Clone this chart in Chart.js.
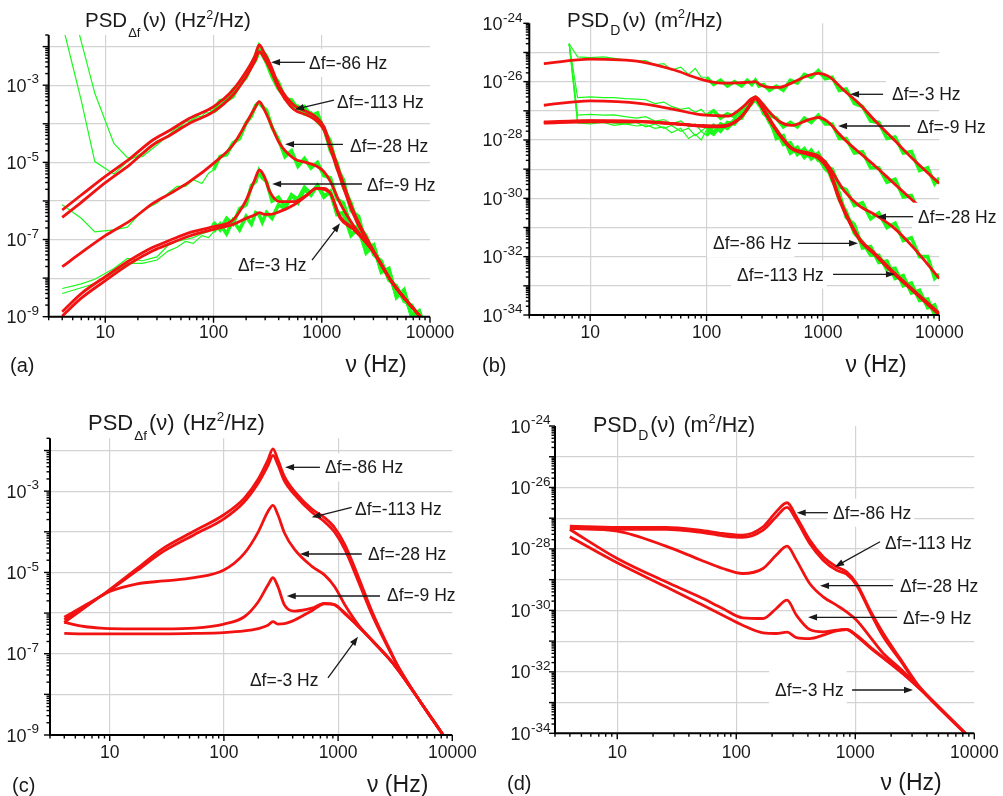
<!DOCTYPE html>
<html><head><meta charset="utf-8">
<script src="https://cdn.jsdelivr.net/npm/chart.js@4.4.1/dist/chart.umd.min.js"></script>
<style>
html,body{margin:0;padding:0;background:#fff;}
#wrap{position:relative;width:1003px;height:796px;overflow:hidden;background:#fff;}
canvas{position:absolute;left:0;top:0;}
</style></head><body>
<div id="wrap">
<canvas id="ca" width="1003" height="796"></canvas>
<canvas id="cb" width="1003" height="796"></canvas>
<canvas id="cc" width="1003" height="796"></canvas>
<canvas id="cd" width="1003" height="796"></canvas>
</div>
<script>
// ===== DATA (values are log10 of PSD) =====
// Panel (a): PSD_Δf, red model curves
const freqA = [4, 6, 10, 17, 27.5, 40, 60, 100, 151, 200, 240, 265, 295, 331, 407, 550, 725, 891, 1047, 1202, 1479, 1950, 3020, 4571, 8128];
const aRed86  = [-6.235, -5.846, -5.362, -4.895, -4.42, -4.16, -3.858, -3.556, -3.124, -2.648, -2.259, -1.957, -2.173, -2.432, -3.037, -3.513, -3.685, -3.832, -4.074, -4.55, -5.3, -6.25, -7.30, -8.15, -9.0];
const aRed113 = [-6.425, -6.036, -5.526, -5.05, -4.55, -4.29, -3.988, -3.685, -3.253, -2.778, -2.389, -2.13, -2.302, -2.562, -3.124, -3.625, -3.772, -3.919, -4.16, -4.65, -5.4, -6.33, -7.33, -8.15, -9.0];
const aRed28  = [-7.704, -7.341, -6.9, -6.512, -6.062, -5.803, -5.50, -5.025, -4.55, -3.988, -3.60, -3.426, -3.642, -3.945, -4.506, -4.895, -5.008, -5.094, -5.241, -5.50, -6.062, -6.624, -7.33, -8.15, -9.0];
const aRed9   = [-8.871, -8.40, -7.964, -7.532, -7.203, -7.013, -6.823, -6.667, -6.494, -5.976, -5.457, -5.198, -5.371, -5.76, -6.019, -6.019, -5.846, -5.673, -5.70, -5.803, -6.41, -6.71, -7.33, -8.15, -9.0];
const aRed3   = [-8.984, -8.52, -8.067, -7.618, -7.29, -7.10, -6.909, -6.736, -6.607, -6.451, -6.365, -6.304, -6.347, -6.347, -6.278, -6.105, -5.863, -5.673, -5.673, -5.803, -6.45, -6.73, -7.33, -8.15, -9.0];
// Panel (a): measured (green) spectra
const freqAG = [4, 6, 8, 12, 16, 22, 30, 38, 46, 55, 65, 78, 90, 100, 115, 132, 151, 174, 200, 224, 245, 263, 282, 309, 347, 398, 457, 525, 603, 692, 794, 912, 1047, 1202, 1380, 1585, 1862, 2188, 2570, 3020, 3548, 4169, 4898, 5754, 6761, 7943, 9120];
const aGreen86  = [-1.4, -3.4, -4.98, -5.30, -4.98, -4.75, -4.45, -4.35, -4.15, -3.95, -3.90, -3.70, -3.72, -3.65, -3.40, -3.38, -3.12, -2.98, -2.68, -2.45, -2.22, -1.98, -2.12, -2.25, -2.70, -2.92, -3.35, -3.38, -3.62, -3.55, -3.80, -3.72, -4.15, -4.45, -5.15, -5.45, -6.25, -6.4, -7.15, -7.15, -7.8, -7.8, -8.45, -8.35, -8.95, -8.85, -9.3];
const aGreen113 = [0, -1.87, -3.21, -4.51, -4.88, -4.85, -4.55, -4.3, -4.1, -4.05, -3.85, -3.80, -3.62, -3.70, -3.55, -3.40, -3.30, -3.00, -2.80, -2.50, -2.35, -2.12, -2.20, -2.42, -2.78, -3.10, -3.30, -3.55, -3.55, -3.75, -3.72, -3.95, -4.10, -4.70, -5.00, -5.65, -6.05, -6.65, -6.90, -7.4, -7.55, -8.05, -8.2, -8.6, -8.7, -9.05, -9.1];
const aGreen28  = [-6.10, -6.45, -6.80, -6.75, -6.68, -6.25, -6.05, -5.80, -5.62, -5.62, -5.45, -5.55, -5.28, -5.20, -4.85, -4.80, -4.50, -4.38, -3.98, -3.80, -3.52, -3.45, -3.55, -3.65, -4.10, -4.40, -4.85, -4.70, -5.10, -4.90, -5.15, -5.00, -5.35, -5.40, -5.95, -6.05, -6.65, -6.70, -7.20, -7.25, -7.75, -7.85, -8.45, -8.40, -8.95, -8.90, -9.35];
const aGreen9   = [-8.27, -8.15, -8.03, -7.75, -7.49, -7.55, -7.45, -7.15, -7.05, -7.0, -6.95, -6.85, -6.8, -6.55, -6.75, -6.45, -6.60, -6.20, -6.10, -5.60, -5.50, -5.22, -5.40, -5.50, -6.00, -5.90, -6.15, -5.85, -6.05, -5.70, -5.85, -5.60, -5.85, -5.80, -6.30, -6.35, -6.85, -6.75, -7.30, -7.20, -7.80, -7.80, -8.45, -8.35, -8.95, -8.90, -9.35];
const aGreen3   = [-8.40, -8.25, -8.14, -7.85, -7.62, -7.62, -7.53, -7.30, -7.20, -7.05, -7.10, -6.90, -6.95, -6.80, -6.60, -6.85, -6.50, -6.75, -6.40, -6.60, -6.30, -6.35, -6.55, -6.30, -6.45, -6.10, -6.20, -5.85, -5.95, -5.65, -5.80, -5.60, -5.90, -5.75, -6.35, -6.30, -6.90, -6.70, -7.35, -7.15, -7.85, -7.75, -8.50, -8.30, -9.0, -8.85, -9.4];

// Panel (b): PSD_D, red model curves
const freqB = [4, 10, 27.5, 53.7, 85, 126, 155, 186, 214, 240, 263, 288, 316, 417, 537, 759, 912, 1122, 1349, 1549, 2042, 2818, 3981, 6026, 10000];
const bRed3   = [-25.38, -25.23, -25.32, -25.61, -25.89, -26.04, -26.05, -26.04, -26.03, -26.02, -26.0, -26.1, -26.17, -26.2, -26.05, -25.78, -25.72, -25.82, -26.1, -26.33, -26.75, -27.35, -27.95, -28.68, -29.49];
const bRed9   = [-26.81, -26.66, -26.75, -26.96, -27.12, -27.17, -27.18, -27.0, -26.8, -26.6, -26.52, -26.65, -26.85, -27.35, -27.5, -27.3, -27.23, -27.4, -27.75, -28.0, -28.42, -28.9, -29.45, -30.1, -30.85];
const bRed28  = [-27.40, -27.35, -27.37, -27.45, -27.50, -27.52, -27.48, -27.30, -27.05, -26.75, -26.55, -26.75, -27.05, -27.78, -28.27, -28.46, -28.55, -28.9, -29.42, -29.78, -30.25, -30.57, -30.98, -31.7, -32.75];
const bRed86  = [-27.42, -27.38, -27.38, -27.45, -27.52, -27.55, -27.50, -27.32, -27.05, -26.75, -26.52, -26.72, -27.0, -27.75, -28.27, -28.45, -28.55, -28.95, -29.85, -30.45, -31.35, -31.9, -32.5, -33.15, -33.94];
const bRed113 = [-27.38, -27.34, -27.36, -27.44, -27.50, -27.53, -27.49, -27.31, -27.06, -26.78, -26.58, -26.78, -27.05, -27.8, -28.3, -28.5, -28.62, -29.05, -29.95, -30.52, -31.4, -31.95, -32.55, -33.2, -34.0];
// Panel (b): measured (green) spectra
const freqBG = [6.6, 7.8, 10, 13, 16, 20, 25, 30, 36, 43, 50, 60, 70, 80, 90, 100, 115, 132, 151, 174, 200, 224, 245, 263, 282, 309, 347, 398, 457, 525, 603, 692, 794, 912, 1047, 1202, 1380, 1585, 1862, 2188, 2570, 3020, 3548, 4169, 4898, 5754, 6761, 7943, 9120, 10000];
const bGreen3   = [-24.7, -25.15, -25.18, -25.15, -25.2, -25.25, -25.3, -25.28, -25.42, -25.38, -25.6, -25.5, -25.75, -25.55, -25.85, -25.85, -26.10, -25.95, -26.15, -26.0, -26.15, -25.95, -26.10, -25.95, -26.15, -26.10, -26.30, -26.15, -26.30, -25.95, -26.05, -25.75, -25.85, -25.62, -25.90, -25.85, -26.30, -26.25, -26.75, -26.85, -27.35, -27.40, -27.95, -27.90, -28.45, -28.40, -29.05, -28.95, -29.5, -29.3];
const bGreen9   = [-24.7, -26.55, -26.52, -26.55, -26.55, -26.58, -26.6, -26.62, -26.75, -26.7, -26.85, -26.95, -26.9, -27.05, -26.95, -27.15, -27.0, -27.25, -27.10, -27.20, -26.95, -26.80, -26.60, -26.55, -26.70, -26.80, -27.15, -27.25, -27.55, -27.40, -27.55, -27.25, -27.40, -27.15, -27.45, -27.45, -27.95, -27.95, -28.45, -28.40, -28.95, -28.95, -29.45, -29.35, -29.95, -29.90, -30.5, -30.4, -30.95, -30.8];
const bGreen28  = [-24.7, -27.15, -27.12, -27.15, -27.14, -27.2, -27.25, -27.2, -27.35, -27.3, -27.45, -27.35, -27.55, -27.45, -27.7, -27.55, -27.75, -27.45, -27.55, -27.30, -27.25, -26.90, -26.75, -26.60, -26.80, -26.95, -27.40, -27.65, -28.15, -28.10, -28.50, -28.30, -28.65, -28.45, -28.90, -29.0, -29.60, -29.70, -30.25, -30.15, -30.70, -30.50, -31.0, -30.85, -31.45, -31.35, -32.0, -32.0, -32.75, -32.6];
const bGreen86  = [-24.7, -27.35, -27.38, -27.35, -27.42, -27.45, -27.4, -27.55, -27.45, -27.6, -27.5, -27.7, -27.6, -27.85, -27.7, -27.85, -27.50, -27.70, -27.40, -27.45, -27.10, -26.95, -26.65, -26.55, -26.75, -27.0, -27.35, -27.85, -27.95, -28.40, -28.25, -28.60, -28.35, -28.70, -28.75, -29.40, -29.80, -30.65, -30.90, -31.70, -31.65, -32.2, -32.15, -32.75, -32.65, -33.25, -33.15, -33.75, -33.65, -34.1];
const bGreen113 = [-24.7, -27.42, -27.45, -27.4, -27.5, -27.45, -27.52, -27.48, -27.6, -27.55, -27.75, -27.6, -27.95, -27.8, -28.0, -27.65, -27.80, -27.50, -27.60, -27.35, -27.20, -26.85, -26.70, -26.62, -26.70, -27.10, -27.25, -27.95, -27.85, -28.45, -28.30, -28.55, -28.50, -28.60, -29.0, -29.20, -30.05, -30.45, -31.20, -31.50, -31.95, -31.95, -32.45, -32.40, -33.0, -32.9, -33.5, -33.45, -34.0, -33.9];

// Panel (c): PSD_Δf, model curves
const freqC = [4, 6, 8.3, 10, 17.4, 30, 55, 100, 151, 200, 243, 269, 297, 339, 417, 589, 759, 933, 1148, 1514, 1995, 2951, 3388, 5248, 8318];
const cRed86  = [-6.10, -5.82, -5.59, -5.42, -4.90, -4.39, -3.98, -3.58, -3.17, -2.70, -2.23, -1.96, -2.23, -2.64, -3.01, -3.44, -3.65, -3.90, -4.32, -5.13, -5.98, -7.0, -7.33, -8.18, -9.0];
const cRed113 = [-6.16, -5.86, -5.59, -5.44, -4.95, -4.47, -4.07, -3.68, -3.26, -2.80, -2.37, -2.12, -2.35, -2.75, -3.09, -3.52, -3.75, -4.01, -4.44, -5.24, -6.06, -7.03, -7.35, -8.18, -9.0];
const cRed28  = [-6.23, -5.87, -5.59, -5.47, -5.28, -5.21, -5.13, -4.94, -4.53, -4.0, -3.50, -3.35, -3.58, -4.03, -4.44, -4.85, -5.06, -5.35, -5.80, -6.30, -6.68, -7.2, -7.42, -8.18, -9.0];
const cRed9   = [-6.23, -6.33, -6.37, -6.38, -6.39, -6.39, -6.37, -6.27, -6.09, -5.72, -5.31, -5.13, -5.35, -5.80, -5.95, -5.88, -5.76, -5.80, -6.0, -6.34, -6.68, -7.2, -7.42, -8.18, -9.0];
const cRed3   = [-6.50, -6.51, -6.51, -6.51, -6.51, -6.51, -6.50, -6.48, -6.44, -6.38, -6.30, -6.21, -6.27, -6.26, -6.17, -5.94, -5.77, -5.79, -6.02, -6.33, -6.68, -7.2, -7.42, -8.18, -9.0];

// Panel (d): PSD_D, model curves
const freqD = [4, 10, 25.6, 49, 77, 113, 168, 217, 267, 320, 414, 537, 695, 845, 1026, 1330, 1722, 2382, 3296, 4550, 8430];
const dRed86  = [-27.257, -27.30, -27.30, -27.388, -27.496, -27.55, -27.279, -26.79, -26.497, -26.953, -27.713, -28.256, -28.582, -28.745, -29.125, -29.993, -30.753, -31.57, -32.38, -32.98, -34.01];
const dRed113 = [-27.333, -27.366, -27.366, -27.453, -27.572, -27.627, -27.388, -26.953, -26.649, -27.062, -27.822, -28.365, -28.691, -28.821, -29.179, -30.048, -30.862, -31.62, -32.41, -33.0, -34.01];
const dRed28  = [-27.333, -27.42, -27.909, -28.343, -28.636, -28.80, -28.636, -28.20, -27.909, -28.365, -29.125, -29.559, -29.831, -30.048, -30.319, -30.862, -31.405, -31.893, -32.436, -32.979, -34.01];
const dRed9   = [-27.366, -28.31, -29.07, -29.559, -29.939, -30.243, -30.265, -29.939, -29.668, -30.156, -30.623, -30.699, -30.645, -30.623, -30.808, -31.188, -31.535, -31.97, -32.458, -32.979, -34.01];
const dRed3   = [-27.605, -28.452, -29.233, -29.776, -30.156, -30.482, -30.732, -30.753, -30.71, -30.884, -30.916, -30.808, -30.667, -30.623, -30.84, -31.21, -31.557, -31.99, -32.469, -32.979, -34.01];

// Tick labels
const xTickLabels = [10, 100, 1000, 10000];
const yLabelsAC = [-3, -5, -7, -9];
const yLabelsBD = [-24, -26, -28, -30, -32, -34];

// Annotations: [text, text anchor (Hz, log10 PSD), arrow start, arrow tip, optional box half-height]
const notesA = [
  ['\u0394f=-86 Hz',  [762, -2.425],  [700, -2.407],  [340, -2.407]],
  ['\u0394f=-113 Hz', [1384, -3.449], [1297, -3.384], [566, -3.625]],
  ['\u0394f=-28 Hz',  [1824, -4.576], [1570, -4.532], [458, -4.532]],
  ['\u0394f=-9 Hz',   [2618, -5.587], [2355, -5.561], [348, -5.561]],
  ['\u0394f=-3 Hz',   [168, -7.661],  [813, -7.531],  [1476, -6.580]]
];
const notesB = [
  ['\u0394f=-3 Hz',   [3926, -26.424], [3289, -26.434], [1710, -26.434]],
  ['\u0394f=-9 Hz',   [6442, -27.555], [5610, -27.521], [1349, -27.521], 12],
  ['\u0394f=-28 Hz',  [6577, -30.63],  [5957, -30.63],  [2917, -30.63]],
  ['\u0394f=-86 Hz',  [113.8, -31.542],[611, -31.542],  [2004, -31.542]],
  ['\u0394f=-113 Hz', [182.8, -32.618],[1222, -32.605], [4159, -32.605]]
];
const notesC = [
  ['\u0394f=-86 Hz',  [767, -2.418],  [693, -2.413],  [343, -2.413]],
  ['\u0394f=-113 Hz', [1406, -3.439], [1315, -3.397], [587, -3.643]],
  ['\u0394f=-28 Hz',  [1828, -4.546], [1611, -4.546], [463, -4.546]],
  ['\u0394f=-9 Hz',   [2679, -5.555], [2328, -5.579], [355, -5.579]],
  ['\u0394f=-3 Hz',   [169, -7.646],  [815, -7.597],  [1493, -6.581]]
];
const notesD = [
  ['\u0394f=-86 Hz',  [650, -26.821],  [590, -26.821],  [322, -26.821]],
  ['\u0394f=-113 Hz', [1778, -27.798], [1614, -27.765], [676, -28.579]],
  ['\u0394f=-28 Hz',  [2377, -29.207], [2075, -29.197], [506, -29.197]],
  ['\u0394f=-9 Hz',   [2518, -30.248], [2244, -30.225], [401, -30.225]],
  ['\u0394f=-3 Hz',   [212, -32.591],  [940, -32.591],  [3055, -32.591], 19]
];

// ===== RENDERING =====
const RED = '#f21212', GREEN = '#1cfa1c', INK = '#1a1a1a';
const FONT = "'Liberation Sans', Arial, Helvetica, sans-serif";

function pts(freq, logs) { return freq.map((f, i) => ({ x: f, y: Math.pow(10, logs[i]) })); }
function redDs(freq, logs) {
  return { data: pts(freq, logs), borderColor: RED, borderWidth: 2.8, pointRadius: 0,
           cubicInterpolationMode: 'monotone', order: 0, fill: false };
}
function greenDs(freq, logs) {
  return { data: pts(freq, logs), borderColor: GREEN, borderWidth: 1.2, pointRadius: 0,
           tension: 0, order: 1, fill: false, borderJoinStyle: 'miter',
           segment: { borderWidth: c => (c.p0.parsed.x >= 95 ? 3.6 : 1.2) } };
}

function arrow(ctx, x1, y1, x2, y2) {
  const a = Math.atan2(y2 - y1, x2 - x1), L = 9, W = 3.3;
  ctx.beginPath(); ctx.moveTo(x1, y1);
  ctx.lineTo(x2 - L * 0.7 * Math.cos(a), y2 - L * 0.7 * Math.sin(a)); ctx.stroke();
  ctx.beginPath(); ctx.moveTo(x2, y2);
  ctx.lineTo(x2 - L * Math.cos(a) + W * Math.sin(a), y2 - L * Math.sin(a) - W * Math.cos(a));
  ctx.lineTo(x2 - L * Math.cos(a) - W * Math.sin(a), y2 - L * Math.sin(a) + W * Math.cos(a));
  ctx.closePath(); ctx.fill();
}

function makePanel(p) {
  const lo = Math.log10(p.yMin), hi = Math.log10(p.yMax);
  const gridY = [];
  for (let e = Math.ceil(lo); e <= Math.floor(hi); e++) { if (e > lo + 1e-6 && e < hi - 1e-6) gridY.push(Math.pow(10, e)); }
  const deco = {
    id: 'deco' + p.id,
    afterDatasetsDraw(chart) {
      const ctx = chart.ctx, xs = chart.scales.x, ys = chart.scales.y;
      ctx.save();
      ctx.font = `17.5px ${FONT}`;
      ctx.textBaseline = 'middle'; ctx.textAlign = 'left';
      p.notes.forEach(n => {
        const [txt, at, fr, to, padY] = n;
        const tx = xs.getPixelForValue(at[0]), ty = ys.getPixelForValue(Math.pow(10, at[1]));
        const w = ctx.measureText(txt).width;
        const py = padY || 14;
        ctx.fillStyle = '#fff';
        ctx.fillRect(tx - 6, ty - py, w + 9, py * 2);
        ctx.fillStyle = INK;
        ctx.fillText(txt, tx, ty + 1);
        ctx.strokeStyle = INK; ctx.lineWidth = 1.3;
        arrow(ctx, xs.getPixelForValue(fr[0]), ys.getPixelForValue(Math.pow(10, fr[1])),
                   xs.getPixelForValue(to[0]), ys.getPixelForValue(Math.pow(10, to[1])));
      });
      ctx.restore();
    },
    afterDraw(chart) {
      const ctx = chart.ctx, xs = chart.scales.x, ys = chart.scales.y;
      const { left, right, top, bottom } = chart.chartArea;
      ctx.save();
      ctx.strokeStyle = '#000'; ctx.lineWidth = 1.4;
      for (let e = 0; e <= 4; e++) for (let m = 1; m <= 9; m++) {
        const v = m * Math.pow(10, e);
        if (v < 3 || v > 10000.5) continue;
        const x = xs.getPixelForValue(v), len = m === 1 ? 6 : 3.5;
        ctx.beginPath(); ctx.moveTo(x, bottom); ctx.lineTo(x, bottom + len); ctx.stroke();
      }
      for (let e = Math.floor(lo); e <= Math.ceil(hi); e++) for (let m = 1; m <= 9; m++) {
        const v = m * Math.pow(10, e);
        if (Math.log10(v) < lo - 1e-9 || Math.log10(v) > hi + 1e-9) continue;
        const y = ys.getPixelForValue(v), len = m === 1 ? 6 : 3.5;
        ctx.beginPath(); ctx.moveTo(left - len, y); ctx.lineTo(left, y); ctx.stroke();
      }
      ctx.lineWidth = 2;
      ctx.beginPath(); ctx.moveTo(left, top); ctx.lineTo(left, bottom); ctx.lineTo(right, bottom); ctx.stroke();
      ctx.fillStyle = INK;
      ctx.font = `17.5px ${FONT}`; ctx.textAlign = 'center'; ctx.textBaseline = 'middle';
      xTickLabels.forEach(v => ctx.fillText(String(v), xs.getPixelForValue(v), bottom + p.xLabDy));
      ctx.textAlign = 'left'; ctx.textBaseline = 'alphabetic';
      p.yLabels.forEach(e => {
        const y = ys.getPixelForValue(Math.pow(10, e));
        ctx.font = `18px ${FONT}`; const wb = ctx.measureText('10').width;
        ctx.font = `13.5px ${FONT}`; const sup = String(e); const ws = ctx.measureText(sup).width;
        const x0 = p.yLabRight - ws - wb;
        const base = y + 6.5;
        ctx.font = `18px ${FONT}`; ctx.fillText('10', x0, base);
        ctx.font = `13.5px ${FONT}`; ctx.fillText(sup, x0 + wb + 0.5, base - 8.2);
      });
      let tx = p.title.x;
      p.title.parts.forEach(([t, s, dy, gap]) => {
        tx += gap || 0;
        ctx.font = `${s}px ${FONT}`; ctx.fillText(t, tx, p.title.y + dy);
        tx += ctx.measureText(t).width;
      });
      ctx.font = `23px ${FONT}`; ctx.textAlign = 'right';
      ctx.fillText('\u03BD (Hz)', p.nu[0], p.nu[1]);
      ctx.font = `20px ${FONT}`; ctx.textAlign = 'left';
      ctx.fillText(p.letter[0], p.letter[1], p.letter[2]);
      ctx.restore();
    }
  };
  const canvasW = 1003, canvasH = 796;
  return new Chart(document.getElementById(p.id), {
    type: 'line',
    data: { datasets: p.datasets },
    options: {
      responsive: false, animation: false, devicePixelRatio: 1,
      layout: { padding: { left: p.area.l, top: p.area.t, right: canvasW - p.area.r, bottom: canvasH - p.area.b } },
      plugins: { legend: { display: false }, tooltip: { enabled: false } },
      events: [],
      scales: {
        x: { type: 'logarithmic', min: 3, max: 10000,
             ticks: { display: false }, border: { display: false },
             grid: { color: '#d3d3d3', lineWidth: 1.2, drawTicks: false },
             afterBuildTicks: s => { s.ticks = [10, 100, 1000].map(v => ({ value: v })); },
             afterFit: s => { s.height = 0; } },
        y: { type: 'logarithmic', min: p.yMin, max: p.yMax,
             ticks: { display: false }, border: { display: false },
             grid: { color: '#d3d3d3', lineWidth: 1.2, drawTicks: false },
             afterBuildTicks: s => { s.ticks = gridY.map(v => ({ value: v })); },
             afterFit: s => { s.width = 0; } }
      }
    },
    plugins: [deco]
  });
}

makePanel({
  id: 'ca', area: { l: 48.7, t: 35, r: 430, b: 316.7 }, yMin: 1e-9, yMax: 2e-2,
  yLabels: yLabelsAC, yLabRight: 38.5, xLabDy: 16.5,
  title: { x: 85, y: 27, parts: [['PSD', 20.5, 0], ['\u0394f', 13, 9.5, 1], ['(\u03BD)', 20.5, 0, 2], ['(Hz', 20.5, 0, 8], ['2', 12.5, -8.5], ['/Hz)', 20.5, 0]] },
  nu: [406.7, 371.7], letter: ['(a)', 10, 371.7], notes: notesA,
  datasets: [redDs(freqA, aRed86), redDs(freqA, aRed113), redDs(freqA, aRed28), redDs(freqA, aRed9), redDs(freqA, aRed3),
             greenDs(freqAG, aGreen86), greenDs(freqAG, aGreen113), greenDs(freqAG, aGreen28), greenDs(freqAG, aGreen9), greenDs(freqAG, aGreen3)]
});
makePanel({
  id: 'cb', area: { l: 529.3, t: 23.3, r: 939.3, b: 315 }, yMin: 1e-34, yMax: 1e-24,
  yLabels: yLabelsBD, yLabRight: 522, xLabDy: 18,
  title: { x: 567, y: 26.7, parts: [['PSD', 20.5, 0], ['D', 14, 8, 1], ['(\u03BD)', 20.5, 0, 2], ['(m', 20.5, 0, 8], ['2', 12.5, -8.5], ['/Hz)', 20.5, 0]] },
  nu: [906.7, 371.7], letter: ['(b)', 482, 371.7], notes: notesB,
  datasets: [redDs(freqB, bRed3), redDs(freqB, bRed9), redDs(freqB, bRed28), redDs(freqB, bRed86), redDs(freqB, bRed113),
             greenDs(freqBG, bGreen3), greenDs(freqBG, bGreen9), greenDs(freqBG, bGreen28), greenDs(freqBG, bGreen86), greenDs(freqBG, bGreen113)]
});
makePanel({
  id: 'cc', area: { l: 50, t: 438.3, r: 452.3, b: 735 }, yMin: 1e-9, yMax: 2e-2,
  yLabels: yLabelsAC, yLabRight: 38.5, xLabDy: 18,
  title: { x: 88, y: 430, parts: [['PSD', 22, 0], ['\u0394f', 13.5, 10, 1], ['(\u03BD)', 22, 0, 2], ['(Hz', 22, 0, 8], ['2', 13.5, -9], ['/Hz)', 22, 0]] },
  nu: [428.3, 791.7], letter: ['(c)', 12, 791.5], notes: notesC,
  datasets: [redDs(freqC, cRed86), redDs(freqC, cRed113), redDs(freqC, cRed28), redDs(freqC, cRed9), redDs(freqC, cRed3)]
});
makePanel({
  id: 'cd', area: { l: 555, t: 426, r: 974.3, b: 733.3 }, yMin: 1e-34, yMax: 1e-24,
  yLabels: yLabelsBD, yLabRight: 550, xLabDy: 20,
  title: { x: 593, y: 431.7, parts: [['PSD', 21.5, 0], ['D', 14, 8.3, 1], ['(\u03BD)', 21.5, 0, 2], ['(m', 21.5, 0, 8], ['2', 13, -9], ['/Hz)', 21.5, 0]] },
  nu: [941.7, 790], letter: ['(d)', 507, 790], notes: notesD,
  datasets: [redDs(freqD, dRed86), redDs(freqD, dRed113), redDs(freqD, dRed28), redDs(freqD, dRed9), redDs(freqD, dRed3)]
});
</script>
</body></html>
